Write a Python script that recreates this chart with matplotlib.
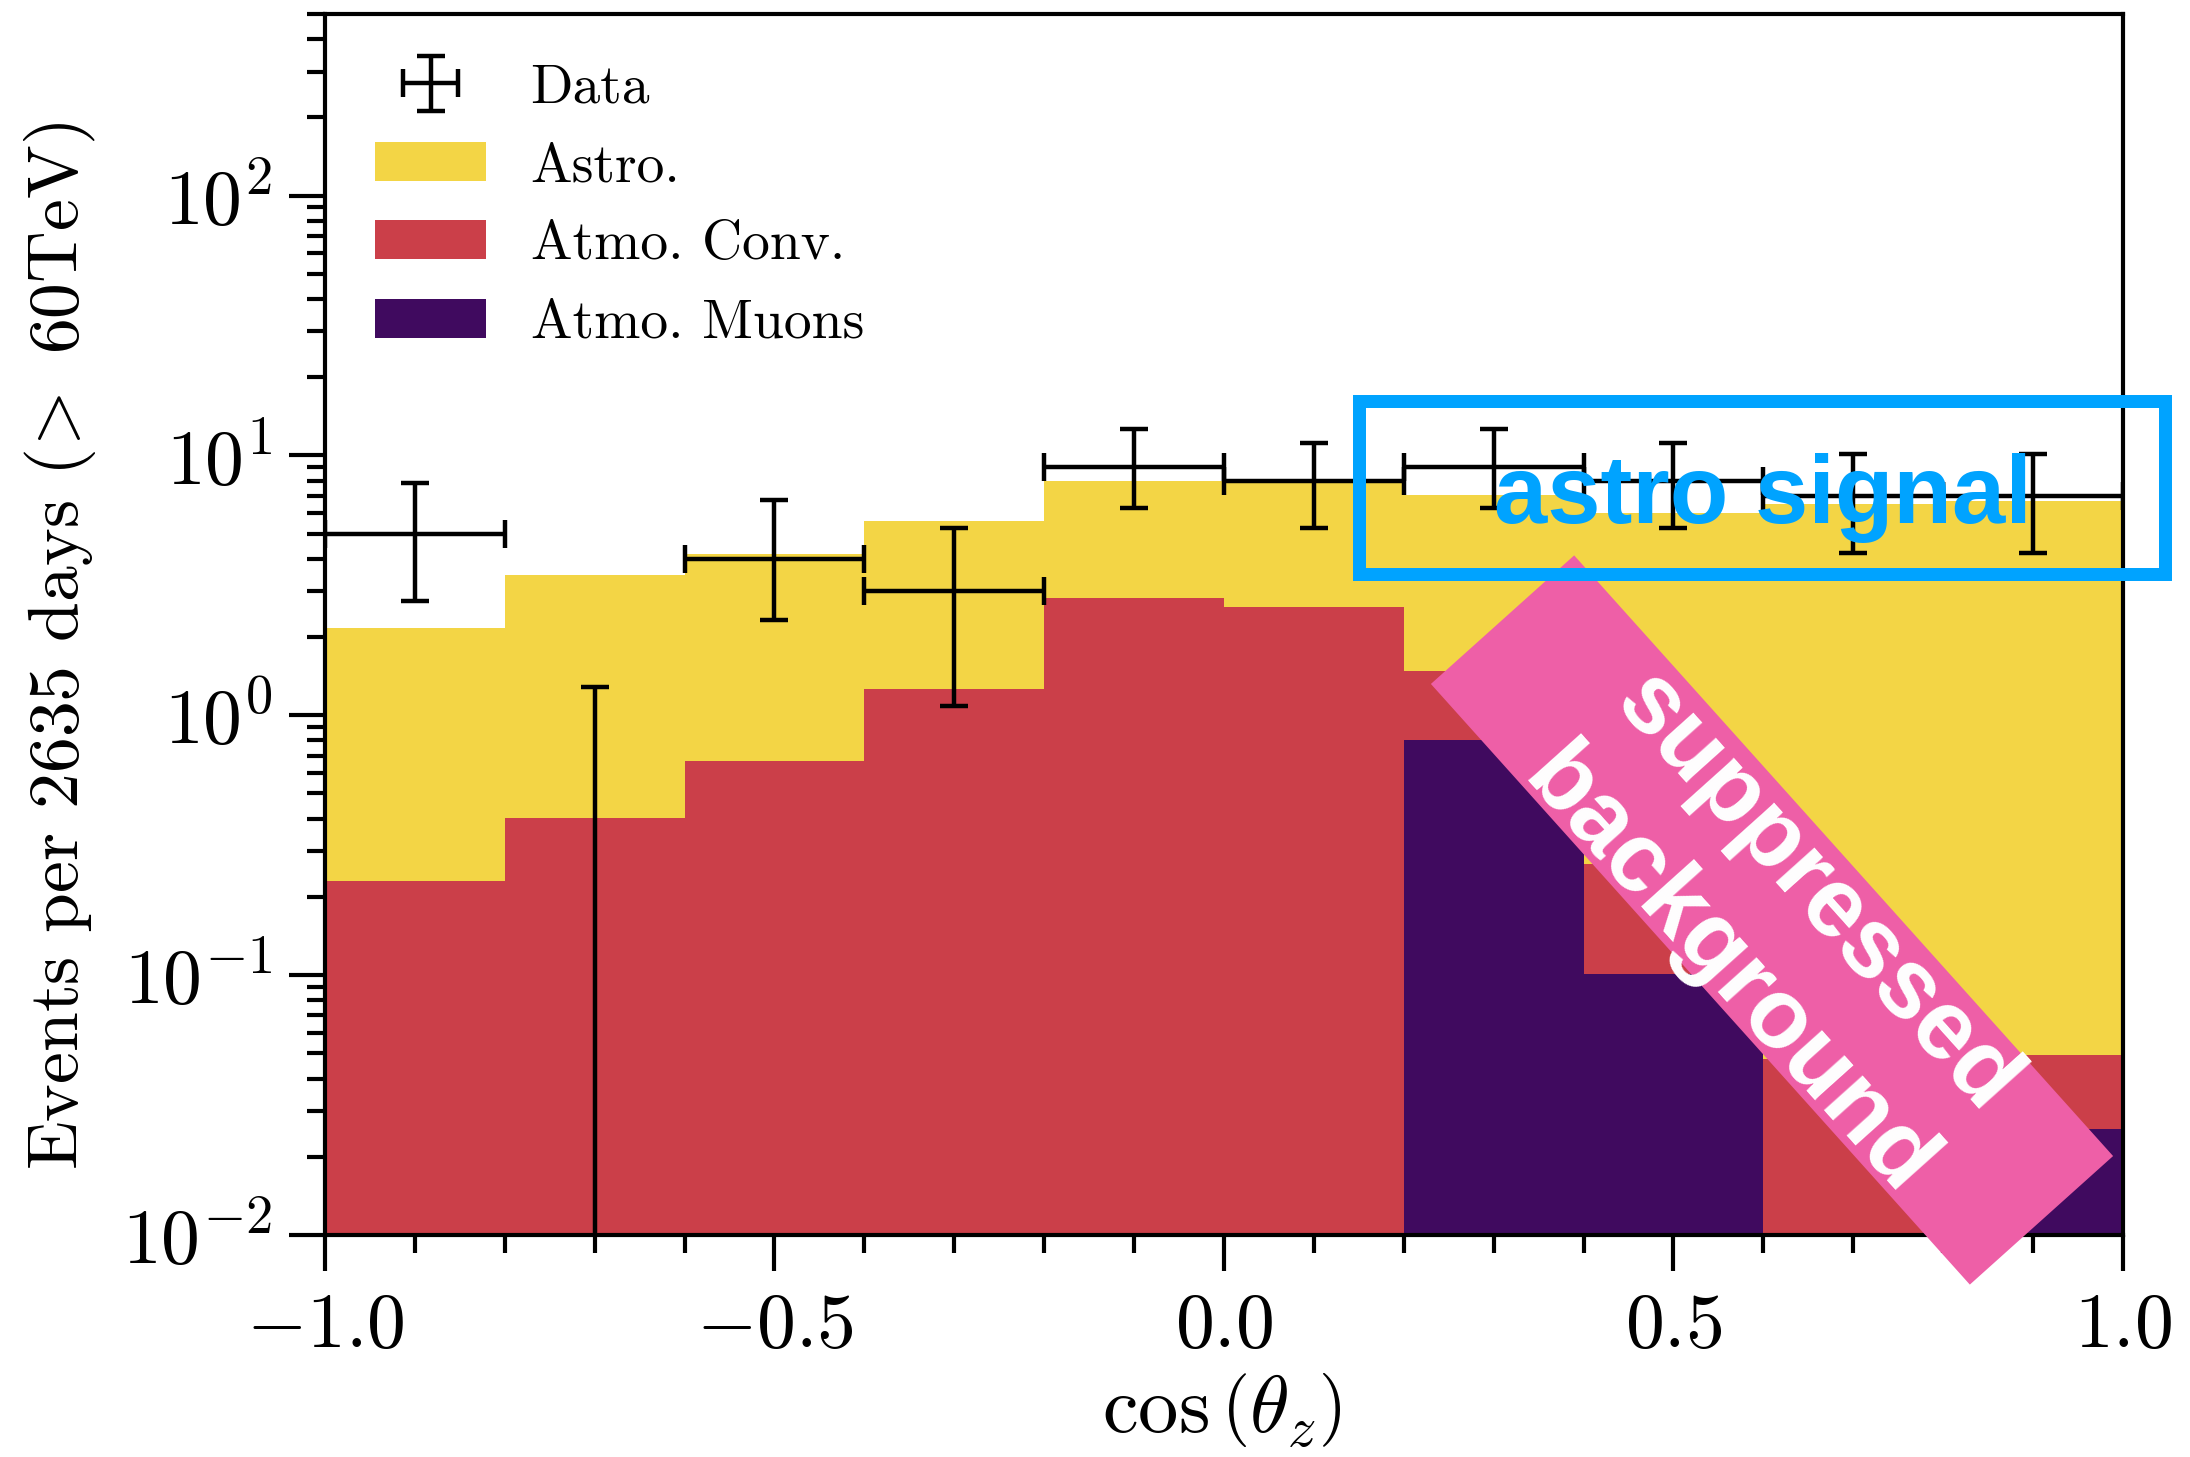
import numpy as np
import matplotlib
matplotlib.use("Agg")
import matplotlib.pyplot as plt
from matplotlib.patches import Rectangle, Patch
import matplotlib.transforms as mtransforms
from matplotlib.ticker import MultipleLocator, LogLocator, FuncFormatter, NullFormatter, FixedLocator

# ---------------- data ----------------
bin_edges = [-1.0, -0.8, -0.6, -0.4, -0.2, 0.0, 0.2, 0.4, 0.6, 0.8, 1.0]
muon = [0.0, 0.0, 0.0, 0.0, 0.0, 0.0, 0.80, 0.101, 0.0, 0.0255]
conv = [0.230, 0.402, 0.665, 1.26, 2.83, 2.62, 0.68, 0.167, 0.0475, 0.0237]
astro = [1.94, 3.05, 3.50, 4.34, 5.12, 5.18, 5.57, 5.75, 6.45, 6.60]
data_counts = [5, 0, 4, 3, 9, 8, 9, 8, 7, 7]
data_lower = [2.75, 0.0, 2.33, 1.09, 6.30, 5.25, 6.30, 5.25, 4.20, 4.20]
data_upper = [7.83, 1.29, 6.75, 5.28, 12.6, 11.15, 12.6, 11.15, 10.15, 10.15]
legend_labels = ["Data", "Astro.", "Atmo. Conv.", "Atmo. Muons"]
xtick_values = [-1.0, -0.5, 0.0, 0.5, 1.0]
ytick_exponents = [-2, -1, 0, 1, 2]

# ---------------- style ----------------
plt.rcParams['font.family'] = 'cmr10'
plt.rcParams['mathtext.fontset'] = 'cm'
plt.rcParams['mathtext.default'] = 'rm'
plt.rcParams['axes.formatter.use_mathtext'] = True

C_ASTRO = '#f3d545'
C_CONV = '#cb3f49'
C_MUON = '#400a5f'
C_PINK = '#ee5fa7'
C_BLUE = '#00a3ff'

W, H = 2190, 1457
DPI = 200
fig = plt.figure(figsize=(W / DPI, H / DPI), dpi=DPI)
ax = fig.add_axes([0.1484, 0.1524, 0.8210, 0.8380])

edges = np.array(bin_edges)
left = edges[:-1]
width = np.diff(edges)
centers = 0.5 * (edges[:-1] + edges[1:])
base = np.full(len(left), 1e-4)

mu = np.array(muon)
cv = np.array(conv)
asr = np.array(astro)

ax.bar(left, mu, width=width, bottom=base, align='edge', color=C_MUON, lw=0, zorder=2)
ax.bar(left, cv, width=width, bottom=base + mu, align='edge', color=C_CONV, lw=0, zorder=2)
ax.bar(left, asr, width=width, bottom=base + mu + cv, align='edge', color=C_ASTRO, lw=0, zorder=2)

cnt = np.array(data_counts, dtype=float)
yerr = np.vstack([cnt - np.array(data_lower), np.array(data_upper) - cnt])
xerr = width / 2
eb = ax.errorbar(centers, cnt, yerr=yerr, xerr=xerr, fmt='none', ecolor='black',
                 elinewidth=1.6, capsize=5, capthick=1.6, zorder=4)

ax.set_yscale('log')
ax.set_xlim(-1.0, 1.0)
ax.set_ylim(1e-2, 500)

ax.xaxis.set_major_locator(FixedLocator(xtick_values))
ax.xaxis.set_minor_locator(MultipleLocator(0.1))
ax.xaxis.set_major_formatter(FuncFormatter(lambda v, p: r'$%.1f$' % v))
ax.yaxis.set_major_locator(FixedLocator([10.0 ** e for e in ytick_exponents]))
ax.yaxis.set_minor_locator(LogLocator(base=10, subs=np.arange(2, 10)))
ax.yaxis.set_minor_formatter(NullFormatter())
ax.yaxis.set_major_formatter(FuncFormatter(lambda v, p: r'$10^{%d}$' % int(round(np.log10(v)))))

ax.tick_params(which='major', direction='out', length=13, width=1.5, labelsize=28)
ax.tick_params(which='minor', direction='out', length=6.5, width=1.5)
ax.tick_params(axis='x', which='major', pad=8)
ax.tick_params(axis='y', which='major', pad=6)
ax.tick_params(top=False, right=False, which='both')
for s in ax.spines.values():
    s.set_linewidth(1.5)

ax.set_xlabel(r'$\cos\left(\theta_{\mathit{z}}\right)$', fontsize=29)
ax.set_ylabel(r'Events per 2635 days ($\!>$ 60TeV)', fontsize=25.8)
ax.yaxis.set_label_coords(-0.126, 0.482)
ax.xaxis.set_label_coords(0.499, -0.112)

handles = [eb,
           Patch(facecolor=C_ASTRO, edgecolor='none'),
           Patch(facecolor=C_CONV, edgecolor='none'),
           Patch(facecolor=C_MUON, edgecolor='none')]
ax.legend(handles, legend_labels, loc='upper left', frameon=False, fontsize=20,
          labelspacing=0.51, handlelength=2.0, handleheight=0.7)

# ---------------- annotations (pixel coordinates, origin bottom-left) ----------------
ident = mtransforms.IdentityTransform()

# pink rotated band
cx, cy = 1772.0, H - 920.0
blen, bwid, ang = 807.0, 192.5, -48.1
pink = Rectangle((cx - blen / 2, cy - bwid / 2), blen, bwid, facecolor=C_PINK, lw=0,
                 transform=mtransforms.Affine2D().rotate_deg_around(cx, cy, ang), zorder=5)
fig.add_artist(pink)
fig.text(1772.0, H - 933.0, "suppressed\nbackground", transform=ident, rotation=ang,
         rotation_mode='anchor', ha='center', va='center', multialignment='center',
         color='white', fontsize=35.5, fontweight='bold', family='Liberation Sans',
         linespacing=1.38, zorder=7)

# blue box
blue = Rectangle((1359.0, H - 574.0), 806.0, 173.5, fill=False, edgecolor=C_BLUE,
                 lw=13 * 72 / DPI, transform=ident, zorder=6, joinstyle='miter')
fig.add_artist(blue)
fig.text(1763.0, H - 523.0, "astro signal", transform=ident, ha='center', va='baseline',
         color=C_BLUE, fontsize=34.5, fontweight='bold', family='Liberation Sans', zorder=7)

fig.savefig('out.png', dpi=DPI)
